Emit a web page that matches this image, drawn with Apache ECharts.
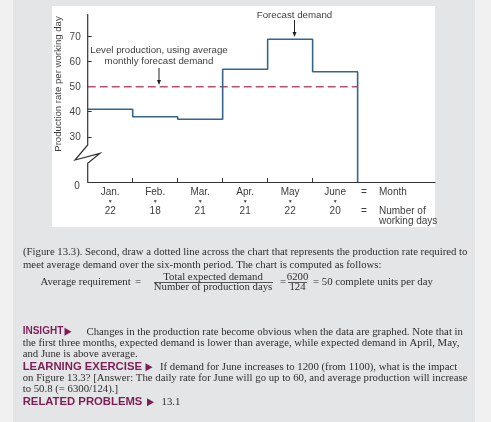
<!DOCTYPE html>
<html><head><meta charset="utf-8">
<script src="https://cdn.jsdelivr.net/npm/echarts@6/dist/echarts.min.js"></script>
<style>html,body{margin:0;padding:0;background:#f1f1f1}#c{width:491px;height:422px}</style>
</head><body><div id="c"></div>
<script>
// ---- data ----
const months = ['Jan.', 'Feb.', 'Mar.', 'Apr.', 'May', 'June'];
const workingDays = [22, 18, 21, 21, 22, 20];
const dailyRate = [41, 38, 37, 57, 69, 56];
const averageRate = 50;
const yTickValues = [30, 40, 50, 60, 70];
const yAxisMin = 11.9, yAxisMax = 79.1;
const xAxisMax = 7.72;

// step line built from monthly rates
const stepData = [];
dailyRate.forEach((v, i) => { stepData.push([i, v]); stepData.push([i + 1, v]); });
stepData.push([months.length, yAxisMin]);
const avgData = [[0, averageRate], [months.length, averageRate]];
const monthTicks = months.map((m, i) => i + 1);
const monthCenters = months.map((m, i) => i + 0.5);

const sans = 'Liberation Sans, Arial, sans-serif';
const serif = 'Liberation Serif, Times New Roman, serif';
const txt = '#2e2e2e';
const hl = '#7d1f55';

function t(x, y, text, opt) {
  opt = opt || {};
  return { type: 'text', x: x, y: y, z: 20, rotation: opt.rotation || 0,
    style: { text: text, font: opt.font || ('10px ' + sans), fill: opt.fill || '#3d3d3d',
      textAlign: opt.align || 'left', textVerticalAlign: 'middle' } };
}
function arrow(x, y1, y2) {
  return [
    { type: 'line', z: 20, shape: { x1: x, y1: y1, x2: x, y2: y2 - 4 }, style: { stroke: '#222', lineWidth: 1 } },
    { type: 'polygon', z: 20, shape: { points: [[x - 2, y2 - 5], [x + 2, y2 - 5], [x, y2]] }, style: { fill: '#222' } }
  ];
}
function tri(x, y) {
  return { type: 'polygon', z: 20, shape: { points: [[x, y - 4], [x, y + 4], [x + 7, y]] }, style: { fill: hl } };
}
const body = '10.75px ' + serif;
const boldS = 'bold 10px ' + sans;
const boldL = 'bold 11.3px ' + sans;

const chart = echarts.init(document.getElementById('c'));
chart.setOption({
  animation: false,
  backgroundColor: '#f1f1f1',
  grid: { left: 87.7, top: 14, right: 56, bottom: 240 },
  xAxis: {
    type: 'value', min: 0, max: xAxisMax, z: 3,
    axisLine: { show: true, lineStyle: { color: '#333', width: 1.2 } },
    axisTick: { show: true, inside: true, length: 4, customValues: monthTicks, lineStyle: { color: '#333', width: 1 } },
    splitLine: { show: false },
    axisLabel: {
      customValues: monthCenters, margin: 5,
      formatter: v => { const i = Math.floor(v); return '{m|' + months[i] + '}\n{a|▼}\n{n|' + workingDays[i] + '}'; },
      rich: {
        m: { fontFamily: sans, fontSize: 10, color: '#3d3d3d', lineHeight: 10 },
        a: { fontFamily: sans, fontSize: 5, color: '#3d3d3d', lineHeight: 9 },
        n: { fontFamily: sans, fontSize: 10, color: '#3d3d3d', lineHeight: 10 }
      }
    }
  },
  yAxis: {
    type: 'value', min: yAxisMin, max: yAxisMax, z: 3,
    axisLine: { show: false },
    axisTick: { show: true, inside: true, length: 4, customValues: yTickValues, lineStyle: { color: '#333', width: 1 } },
    axisLabel: { customValues: yTickValues, margin: 7, fontFamily: sans, fontSize: 10, color: '#444' },
    splitLine: { show: false }
  },
  series: [
    { type: 'line', data: avgData, z: 4, symbol: 'none', silent: true,
      lineStyle: { color: '#b9506c', width: 1.5, type: [8, 4] } },
    { type: 'line', data: stepData, z: 5, symbol: 'none', silent: true,
      lineStyle: { color: '#35658a', width: 1.6 } }
  ],
  graphic: { elements: [
    { type: 'rect', z: 0, shape: { x: 13, y: 0, width: 462, height: 422 }, style: { fill: '#e4e5e7' } },
    { type: 'rect', z: 0, shape: { x: 52, y: 6, width: 383, height: 221 }, style: { fill: '#ffffff' } },
    { type: 'polyline', z: 6, shape: { points: [[87.7, 14], [87.7, 145], [75, 160], [100, 153.3], [87.7, 163.3], [87.7, 182]] },
      style: { stroke: '#333', lineWidth: 1.2, fill: null } },
    t(77, 186, '0', { align: 'center' }),
    t(58, 84, 'Production rate per working day', { align: 'center', rotation: Math.PI / 2, font: '9.6px ' + sans }),
    t(159, 50, 'Level production, using average', { align: 'center', font: '9.7px ' + sans }),
    t(159, 61, 'monthly forecast demand', { align: 'center', font: '9.7px ' + sans }),
    ...arrow(159, 68, 85),
    t(294.5, 15, 'Forecast demand', { align: 'center', font: '9.7px ' + sans }),
    ...arrow(294.5, 20, 37),
    t(364, 192, '=', { align: 'center' }),
    t(364, 211, '=', { align: 'center' }),
    t(379, 192, 'Month'),
    t(379, 211, 'Number of'),
    t(379, 221, 'working days'),

    t(23, 252, '(Figure 13.3). Second, draw a dotted line across the chart that represents the production rate required to', { font: body, fill: txt }),
    t(23, 265, 'meet average demand over the six-month period. The chart is computed as follows:', { font: body, fill: txt }),
    t(40.5, 282.5, 'Average requirement', { font: body, fill: txt }),
    t(138, 282.5, '=', { font: body, fill: txt, align: 'center' }),
    t(213, 277.5, 'Total expected demand', { font: body, fill: txt, align: 'center' }),
    { type: 'line', z: 20, shape: { x1: 154, y1: 282.5, x2: 273, y2: 282.5 }, style: { stroke: txt, lineWidth: 0.8 } },
    t(213, 287.5, 'Number of production days', { font: body, fill: txt, align: 'center' }),
    t(283, 282.5, '=', { font: body, fill: txt, align: 'center' }),
    t(297.5, 277.5, '6200', { font: body, fill: txt, align: 'center' }),
    { type: 'line', z: 20, shape: { x1: 288, y1: 282.5, x2: 307, y2: 282.5 }, style: { stroke: txt, lineWidth: 0.8 } },
    t(297.5, 287.5, '124', { font: body, fill: txt, align: 'center' }),
    t(313, 282.5, '= 50 complete units per day', { font: body, fill: txt }),

    t(22.7, 331.7, 'INSIGHT', { font: boldS, fill: hl }),
    tri(64.5, 331.7),
    t(86.5, 331.7, 'Changes in the production rate become obvious when the data are graphed. Note that in', { font: body, fill: txt }),
    t(22.7, 343.2, 'the first three months, expected demand is lower than average, while expected demand in April, May,', { font: body, fill: txt }),
    t(22.7, 354.5, 'and June is above average.', { font: body, fill: txt }),
    t(22.7, 367.3, 'LEARNING EXERCISE', { font: boldL, fill: hl }),
    tri(145.5, 367.3),
    t(160, 367.3, 'If demand for June increases to 1200 (from 1100), what is the impact', { font: body, fill: txt }),
    t(22.7, 378.4, 'on Figure 13.3? [Answer: The daily rate for June will go up to 60, and average production will increase', { font: body, fill: txt }),
    t(22.7, 389.2, 'to 50.8 (= 6300/124).]', { font: body, fill: txt }),
    t(22.7, 402.3, 'RELATED PROBLEMS', { font: boldL, fill: hl }),
    tri(147, 402.3),
    t(161.5, 402.3, '13.1', { font: body, fill: txt })
  ] }
});
</script></body></html>
